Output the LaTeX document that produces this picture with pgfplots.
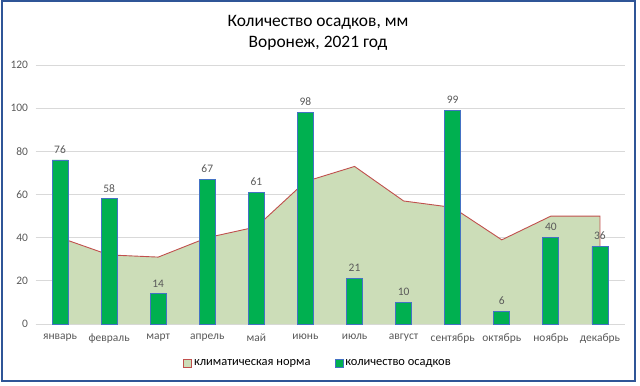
\documentclass[border=0pt]{standalone}
\usepackage{pgfplots}
\pgfplotsset{compat=1.18}
\usepackage{fontspec}
\setmainfont{Carlito}
\definecolor{areafill}{RGB}{204,221,184}
\definecolor{arealine}{RGB}{192,80,77}
\definecolor{barfill}{RGB}{0,176,80}
\definecolor{barline}{RGB}{68,114,196}
\definecolor{txtgray}{RGB}{89,89,89}
\definecolor{gridgray}{RGB}{217,217,217}
\definecolor{framecol}{RGB}{47,85,151}
\pgfplotsset{sqlegend/.style={legend image code/.code={\draw[##1] (0bp,-4bp) rectangle (8bp,4bp);}}}
\begin{document}
\begin{tikzpicture}[x=1bp,y=1bp]
\useasboundingbox (0,0) rectangle (640,385);
\begin{axis}[
  at={(35.5bp,61bp)}, anchor=south west,
  scale only axis, width=589bp, height=259bp,
  xmin=-0.5, xmax=11.5, ymin=0, ymax=120,
  ytick={0,20,...,120},
  xtick={0,...,11},
  xticklabels={январь,февраль,март,апрель,май,июнь,июль,август,сентябрь,октябрь,ноябрь,декабрь},
  axis x line*=bottom, axis y line*=left,
  x axis line style={draw=gridgray, line width=0.8bp, -},
  y axis line style={draw=none},
  ymajorgrids, grid style={gridgray, line width=0.8bp},
  major tick length=0pt,
  tick label style={font=\fontsize{11.5}{13}\selectfont, text=txtgray},
  xticklabel style={yshift=-6bp},
  yticklabel style={xshift=-4bp},
  /pgf/number format/assume math mode=true,
  legend style={at={(0.4796,-0.1506)}, anchor=center, draw=none, fill=none,
    legend columns=2, font=\fontsize{12.5}{14}\selectfont,
    /tikz/every even column/.append style={column sep=22bp}},
  legend cell align=left,
  clip=false,
]
\addplot[fill=areafill, draw=none, forget plot] coordinates {
(0,40) (1,32) (2,31) (3,40) (4,45) (5,66) (6,73) (7,57) (8,54) (9,39) (10,50) (11,50)
} \closedcycle;
\addplot[arealine, line width=0.9bp, forget plot] coordinates {
(0,40) (1,32) (2,31) (3,40) (4,45) (5,66) (6,73) (7,57) (8,54) (9,39) (10,50) (11,50) (11,0)
};
\addlegendimage{sqlegend, fill=areafill, draw=arealine, line width=0.8bp}
\addlegendentry{климатическая норма}
\addplot[ybar, bar width=16bp, fill=barfill, draw=barline, line width=0.8bp,
  nodes near coords, every node near coord/.append style={font=\fontsize{11.5}{13}\selectfont, text=txtgray, yshift=3bp},
  /pgf/number format/assume math mode=true, sqlegend] coordinates {
(0,76) (1,58) (2,14) (3,67) (4,61) (5,98) (6,21) (7,10) (8,99) (9,6) (10,40) (11,36)
};
\addlegendentry{количество осадков}
\end{axis}
\node[font=\fontsize{17.5}{20}\selectfont] at (318,363) {Количество осадков, мм};
\node[font=\fontsize{17.5}{20}\selectfont] at (318,342) {Воронеж, 2021 год};
\draw[framecol, line width=1.5bp] (2,4) rectangle (635,384);
\end{tikzpicture}
\end{document}
